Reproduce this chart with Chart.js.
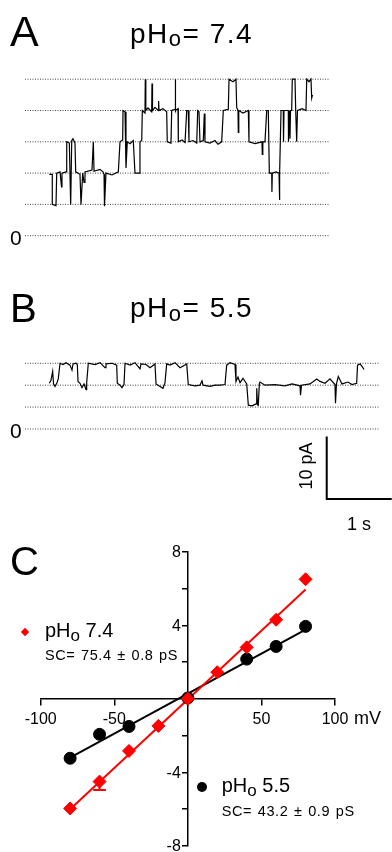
<!DOCTYPE html>
<html>
<head>
<meta charset="utf-8">
<script src="https://cdn.jsdelivr.net/npm/chart.js@4.4.1/dist/chart.umd.min.js"></script>
<style>
  html, body { margin: 0; padding: 0; background: #fff; }
  body { width: 392px; height: 852px; position: relative; overflow: hidden;
         font-family: "Liberation Sans", Arial, sans-serif; color: #000; }
  canvas { position: absolute; left: 0; top: 0; }
  .t { position: absolute; white-space: nowrap; line-height: 1; }
  .title { font-size: 28px; letter-spacing: 1.5px; }
  .title .sub { font-size: 22px; position: relative; top: 3.5px; }
  .leg { font-size: 20px; }
  .leg .sub { font-size: 17px; position: relative; top: 4px; }
  .sc { font-size: 14.5px; letter-spacing: 0.6px; word-spacing: 1px; }
</style>
</head>
<body>
<canvas id="traceA" width="392" height="852"></canvas>
<canvas id="traceB" width="392" height="852"></canvas>
<canvas id="ivPlot" width="392" height="900"></canvas>

<div class="t" style="left:10px;top:10px;font-size:43px;">A</div>
<div class="t title" style="left:130px;top:19.5px;">pH<span class="sub">o</span>= 7.4</div>
<div class="t" style="left:10px;top:227px;font-size:21px;">0</div>

<div class="t" style="left:10px;top:288px;font-size:40px;">B</div>
<div class="t title" style="left:130px;top:294px;">pH<span class="sub">o</span>= 5.5</div>
<div class="t" style="left:10px;top:420px;font-size:21px;">0</div>

<div class="t" style="left:275.5px;top:457px;font-size:18px;transform:rotate(-90deg);transform-origin:center;width:60px;text-align:center;">10 pA</div>
<div class="t" style="left:347px;top:515px;font-size:18px;">1 s</div>

<div class="t" style="left:10px;top:541px;font-size:40px;">C</div>
<div class="t" style="left:354px;top:709px;font-size:18px;">mV</div>

<div style="position:absolute;left:22px;top:628.7px;width:6px;height:6px;background:#ff0000;transform:rotate(45deg);"></div>
<div class="t leg" style="left:45px;top:620.4px;">pH<span class="sub">o</span> 7.4</div>
<div class="t sc" style="left:45px;top:647.7px;">SC= 75.4 &plusmn; 0.8 pS</div>

<div style="position:absolute;left:196.7px;top:781.7px;width:10px;height:10px;border-radius:50%;background:#000;"></div>
<div class="t leg" style="left:221.7px;top:774.8px;">pH<span class="sub">o</span> 5.5</div>
<div class="t sc" style="left:221.7px;top:804.4px;">SC= 43.2 &plusmn; 0.9 pS</div>

<script>
// single-channel trace at pHo 7.4: [time (s), current (pA)]
const traceA = [
  [0.000, 9.8], [0.046, 9.8], [0.046, 5.0], [0.103, 4.8], [0.114, 10.0], [0.165, 10.2],
  [0.188, 7.8], [0.195, 10.0], [0.257, 10.2], [0.268, 15.0], [0.308, 14.8], [0.329, 5.0],
  [0.345, 15.2], [0.365, 15.5], [0.395, 14.8], [0.406, 10.2], [0.472, 9.8], [0.488, 5.0],
  [0.514, 10.0], [0.534, 8.5], [0.549, 10.2], [0.657, 10.5], [0.677, 15.0], [0.688, 10.3],
  [0.780, 10.6], [0.826, 10.2], [0.842, 9.8], [0.849, 4.7], [0.872, 10.0], [0.965, 9.7],
  [1.062, 10.2], [1.088, 15.0], [1.129, 15.3], [1.134, 20.0], [1.165, 19.8], [1.180, 10.8],
  [1.200, 15.0], [1.242, 14.7], [1.292, 15.2], [1.318, 10.0], [1.385, 10.0], [1.395, 15.0],
  [1.422, 15.2], [1.431, 20.0], [1.472, 19.6], [1.477, 25.0], [1.485, 20.0], [1.518, 20.4],
  [1.575, 19.8], [1.580, 24.3], [1.588, 20.0], [1.626, 20.5], [1.677, 20.0], [1.682, 21.5],
  [1.688, 20.0], [1.749, 20.3], [1.806, 19.8], [1.815, 15.0], [1.872, 14.8], [1.883, 20.0],
  [1.934, 20.2], [1.937, 25.0], [1.945, 20.0], [1.980, 20.3], [1.985, 15.0], [2.042, 15.3],
  [2.088, 14.9], [2.114, 20.0], [2.138, 20.0], [2.149, 15.0], [2.211, 15.2], [2.268, 14.8],
  [2.283, 20.0], [2.303, 19.8], [2.318, 15.0], [2.369, 15.2], [2.385, 19.5], [2.395, 15.0],
  [2.472, 14.8], [2.549, 15.2], [2.595, 14.6], [2.652, 15.0], [2.677, 20.0], [2.754, 20.2],
  [2.765, 25.0], [2.826, 24.6], [2.872, 25.0], [2.883, 20.5], [2.903, 20.0], [2.908, 16.5],
  [2.915, 20.0], [2.980, 19.6], [3.062, 20.0], [3.072, 15.0], [3.165, 14.7], [3.272, 15.0],
  [3.277, 13.0], [3.285, 15.0], [3.318, 15.0], [3.345, 20.0], [3.369, 20.0], [3.385, 10.0],
  [3.422, 10.0], [3.425, 7.0], [3.431, 10.0], [3.488, 10.2], [3.534, 10.0], [3.538, 5.7],
  [3.549, 10.0], [3.565, 20.0], [3.600, 20.0], [3.603, 15.0], [3.611, 20.0], [3.677, 20.0],
  [3.680, 15.0], [3.688, 20.0], [3.703, 15.5], [3.711, 20.0], [3.729, 20.0], [3.738, 25.0],
  [3.780, 25.0], [3.791, 20.0], [3.806, 15.0], [3.818, 20.0], [3.888, 20.3], [3.949, 20.0],
  [3.960, 25.0], [3.995, 24.6], [4.026, 25.0], [4.037, 22.0], [4.049, 22.5]
];

// single-channel trace at pHo 5.5: [time (s), current (pA)]
const traceB = [
  [0.000, 7.3], [0.026, 7.8], [0.052, 9.2], [0.065, 7.2], [0.088, 6.8], [0.118, 7.4],
  [0.138, 8.0], [0.165, 10.5], [0.211, 10.3], [0.257, 10.6], [0.318, 10.2], [0.349, 9.4],
  [0.365, 10.4], [0.411, 10.5], [0.431, 10.3], [0.442, 7.6], [0.472, 7.3], [0.503, 6.6],
  [0.534, 7.2], [0.565, 6.3], [0.575, 7.4], [0.600, 10.5], [0.703, 10.3], [0.780, 10.6],
  [0.857, 9.8], [0.872, 10.4], [0.965, 10.5], [1.037, 10.2], [1.046, 7.3], [1.088, 7.0],
  [1.118, 6.6], [1.149, 7.1], [1.165, 10.5], [1.242, 10.2], [1.318, 10.6], [1.395, 9.6],
  [1.411, 10.4], [1.488, 10.3], [1.549, 9.8], [1.626, 10.4], [1.642, 7.2], [1.703, 6.8],
  [1.749, 6.5], [1.780, 7.4], [1.806, 10.4], [1.857, 10.2], [1.934, 10.6], [2.011, 9.8],
  [2.114, 10.4], [2.138, 7.1], [2.242, 6.9], [2.318, 7.0], [2.349, 7.7], [2.365, 7.0],
  [2.472, 6.8], [2.549, 7.0], [2.626, 7.0], [2.703, 7.1], [2.729, 10.2], [2.780, 10.6],
  [2.857, 10.3], [2.872, 7.6], [2.903, 8.3], [2.934, 7.4], [2.980, 8.1], [3.037, 7.2],
  [3.062, 3.8], [3.118, 3.7], [3.180, 4.0], [3.191, 6.5], [3.203, 3.9], [3.215, 3.8],
  [3.231, 7.2], [3.242, 7.5], [3.318, 7.0], [3.472, 7.1], [3.626, 6.9], [3.734, 7.2],
  [3.857, 6.9], [3.865, 5.4], [3.880, 7.0], [4.011, 7.2], [4.114, 8.0], [4.165, 7.6],
  [4.242, 7.3], [4.318, 8.0], [4.395, 7.1], [4.403, 4.1], [4.418, 7.2], [4.446, 8.4],
  [4.503, 7.2], [4.595, 7.5], [4.657, 7.1], [4.729, 7.3], [4.742, 10.2], [4.780, 10.4],
  [4.811, 10.0], [4.842, 9.5]
];

// open-channel current levels (pA), dotted guide lines
const levelsA = [0, 5, 10, 15, 20, 25];
const levelsB = [0, 3.5, 7, 10.5];

// scale bar
const barCurrent = 10; // pA
const barTime = 1;     // s

// I-V data
const voltages = [-80, -60, -40, -20, 0, 20, 40, 60, 80];
const current74 = [-5.96, -4.5, -2.83, -1.47, 0, 1.45, 2.8, 4.3, 6.5];
const voltages55 = [-80, -60, -40, 0, 40, 60, 80];
const current55 = [-3.23, -1.93, -1.5, 0.05, 2.16, 2.85, 3.94];
const errVoltage = -60;
const errLow74 = -4.96;
const fitV = [-80, 80];
const fit74 = [-6.0, 5.95];
const fit55 = [-3.2, 3.76];

const xTicks = [-100, -50, 50, 100];
const yTicks = [-8, -4, 4, 8];

const RED = '#ff0000';
const FONT = '"Liberation Sans", Arial, sans-serif';

// pixel layout helpers: map a value origin (px) and px-per-unit to axis limits
function xRange(px0, ppu, left, right) {
    return { min: (left - px0) / ppu, max: (right - px0) / ppu };
}
function yRange(px0, ppu, top, bottom) {
    return { min: (px0 - bottom) / ppu, max: (px0 - top) / ppu };
}

function guide(level, xr) {
    return {
        data: [{ x: xr.min, y: level }, { x: xr.max, y: level }],
        borderColor: '#444', borderWidth: 1, borderDash: [1, 1.5],
        pointRadius: 0
    };
}

function traceChart(id, trace, levels, area, extra) {
    const xr = xRange(49.3, 65, area.left, area.right);
    const yr = yRange(area.zero, 6.26, area.top, area.bottom);
    const guideX = { min: xr.min, max: (area.guideRight - 49.3) / 65 };
    const datasets = [{
        data: trace.map(p => ({ x: p[0], y: p[1] })),
        borderColor: '#000', borderWidth: 1.2, pointRadius: 0, tension: 0
    }];
    levels.forEach(l => datasets.push(guide(l, guideX)));
    (extra || []).forEach(d => datasets.push(d));
    new Chart(document.getElementById(id), {
        type: 'line',
        data: { datasets: datasets },
        options: {
            responsive: false, animation: false,
            layout: { padding: { left: area.left, right: 392 - area.right, top: area.top, bottom: 852 - area.bottom } },
            plugins: { legend: { display: false }, tooltip: { enabled: false } },
            scales: {
                x: { type: 'linear', display: false, min: xr.min, max: xr.max },
                y: { type: 'linear', display: false, min: yr.min, max: yr.max }
            }
        }
    });
}

traceChart('traceA', traceA, levelsA,
    { left: 25, right: 329, top: 70, bottom: 245, zero: 235.7, guideRight: 329 });

// scale bar drawn in the pHo 5.5 trace coordinates
const barT0 = 4.268, barI0 = -1.2;
traceChart('traceB', traceB, levelsB,
    { left: 25, right: 392, top: 355, bottom: 505, zero: 429, guideRight: 380 },
    [{
        data: [{ x: barT0, y: barI0 }, { x: barT0, y: barI0 - barCurrent }, { x: barT0 + barTime, y: barI0 - barCurrent }],
        borderColor: '#000', borderWidth: 2, pointRadius: 0, borderJoinStyle: 'miter'
    }]);

// y labels sit left of the centred axis, clear of the tick marks
const yLabels = {
    id: 'yLabels',
    afterDraw(chart) {
        const { ctx, scales: { x, y } } = chart;
        ctx.save();
        ctx.font = '16px ' + FONT;
        ctx.fillStyle = '#000';
        ctx.textAlign = 'right';
        ctx.textBaseline = 'middle';
        yTicks.forEach(v => ctx.fillText(String(v), x.getPixelForValue(0) - 7, y.getPixelForValue(v) + 1));
        ctx.restore();
    }
};

// I-V plot
const pts = (xs, ys) => xs.map((x, i) => ({ x: x, y: ys[i] }));
new Chart(document.getElementById('ivPlot'), {
    type: 'scatter',
    data: {
        datasets: [
            { data: pts(voltages, current74), pointStyle: 'rectRot', pointRadius: 6.5,
              backgroundColor: RED, borderColor: RED, borderWidth: 1 },
            { data: pts(voltages55, current55), pointStyle: 'circle', pointRadius: 6,
              backgroundColor: '#000', borderColor: '#000', borderWidth: 1 },
            { data: [{ x: errVoltage, y: current74[1] }, { x: errVoltage, y: errLow74 }],
              showLine: true, borderColor: RED, borderWidth: 2, pointRadius: 0 },
            { data: [{ x: errVoltage - 4.3, y: errLow74 }, { x: errVoltage + 4.3, y: errLow74 }],
              showLine: true, borderColor: RED, borderWidth: 2, pointRadius: 0 },
            { data: pts(fitV, fit74), showLine: true, borderColor: RED, borderWidth: 2, pointRadius: 0 },
            { data: pts(fitV, fit55), showLine: true, borderColor: '#000', borderWidth: 2, pointRadius: 0 }
        ]
    },
    options: {
        responsive: false, animation: false,
        layout: { padding: { left: 40.7, right: 57, top: 551.7, bottom: 54 } },
        plugins: { legend: { display: false }, tooltip: { enabled: false } },
        scales: {
            x: {
                type: 'linear', min: -100, max: 100, position: { y: 0 },
                border: { display: true, color: '#000', width: 1.5 },
                grid: { drawOnChartArea: false, color: '#000', lineWidth: 1.5, tickLength: 6 },
                ticks: { stepSize: 50, autoSkip: false, maxRotation: 0, padding: 5, color: '#000',
                         font: { family: FONT, size: 16 },
                         callback: v => xTicks.includes(v) ? String(v) : '' }
            },
            y: {
                type: 'linear', min: -8, max: 8, position: { x: 0 },
                border: { display: true, color: '#000', width: 1.5 },
                grid: { drawOnChartArea: false, color: '#000', lineWidth: 1.5, tickLength: 5 },
                ticks: { stepSize: 2, autoSkip: false, padding: 0, callback: () => '' }
            }
        }
    },
    plugins: [yLabels]
});
</script>
</body>
</html>
